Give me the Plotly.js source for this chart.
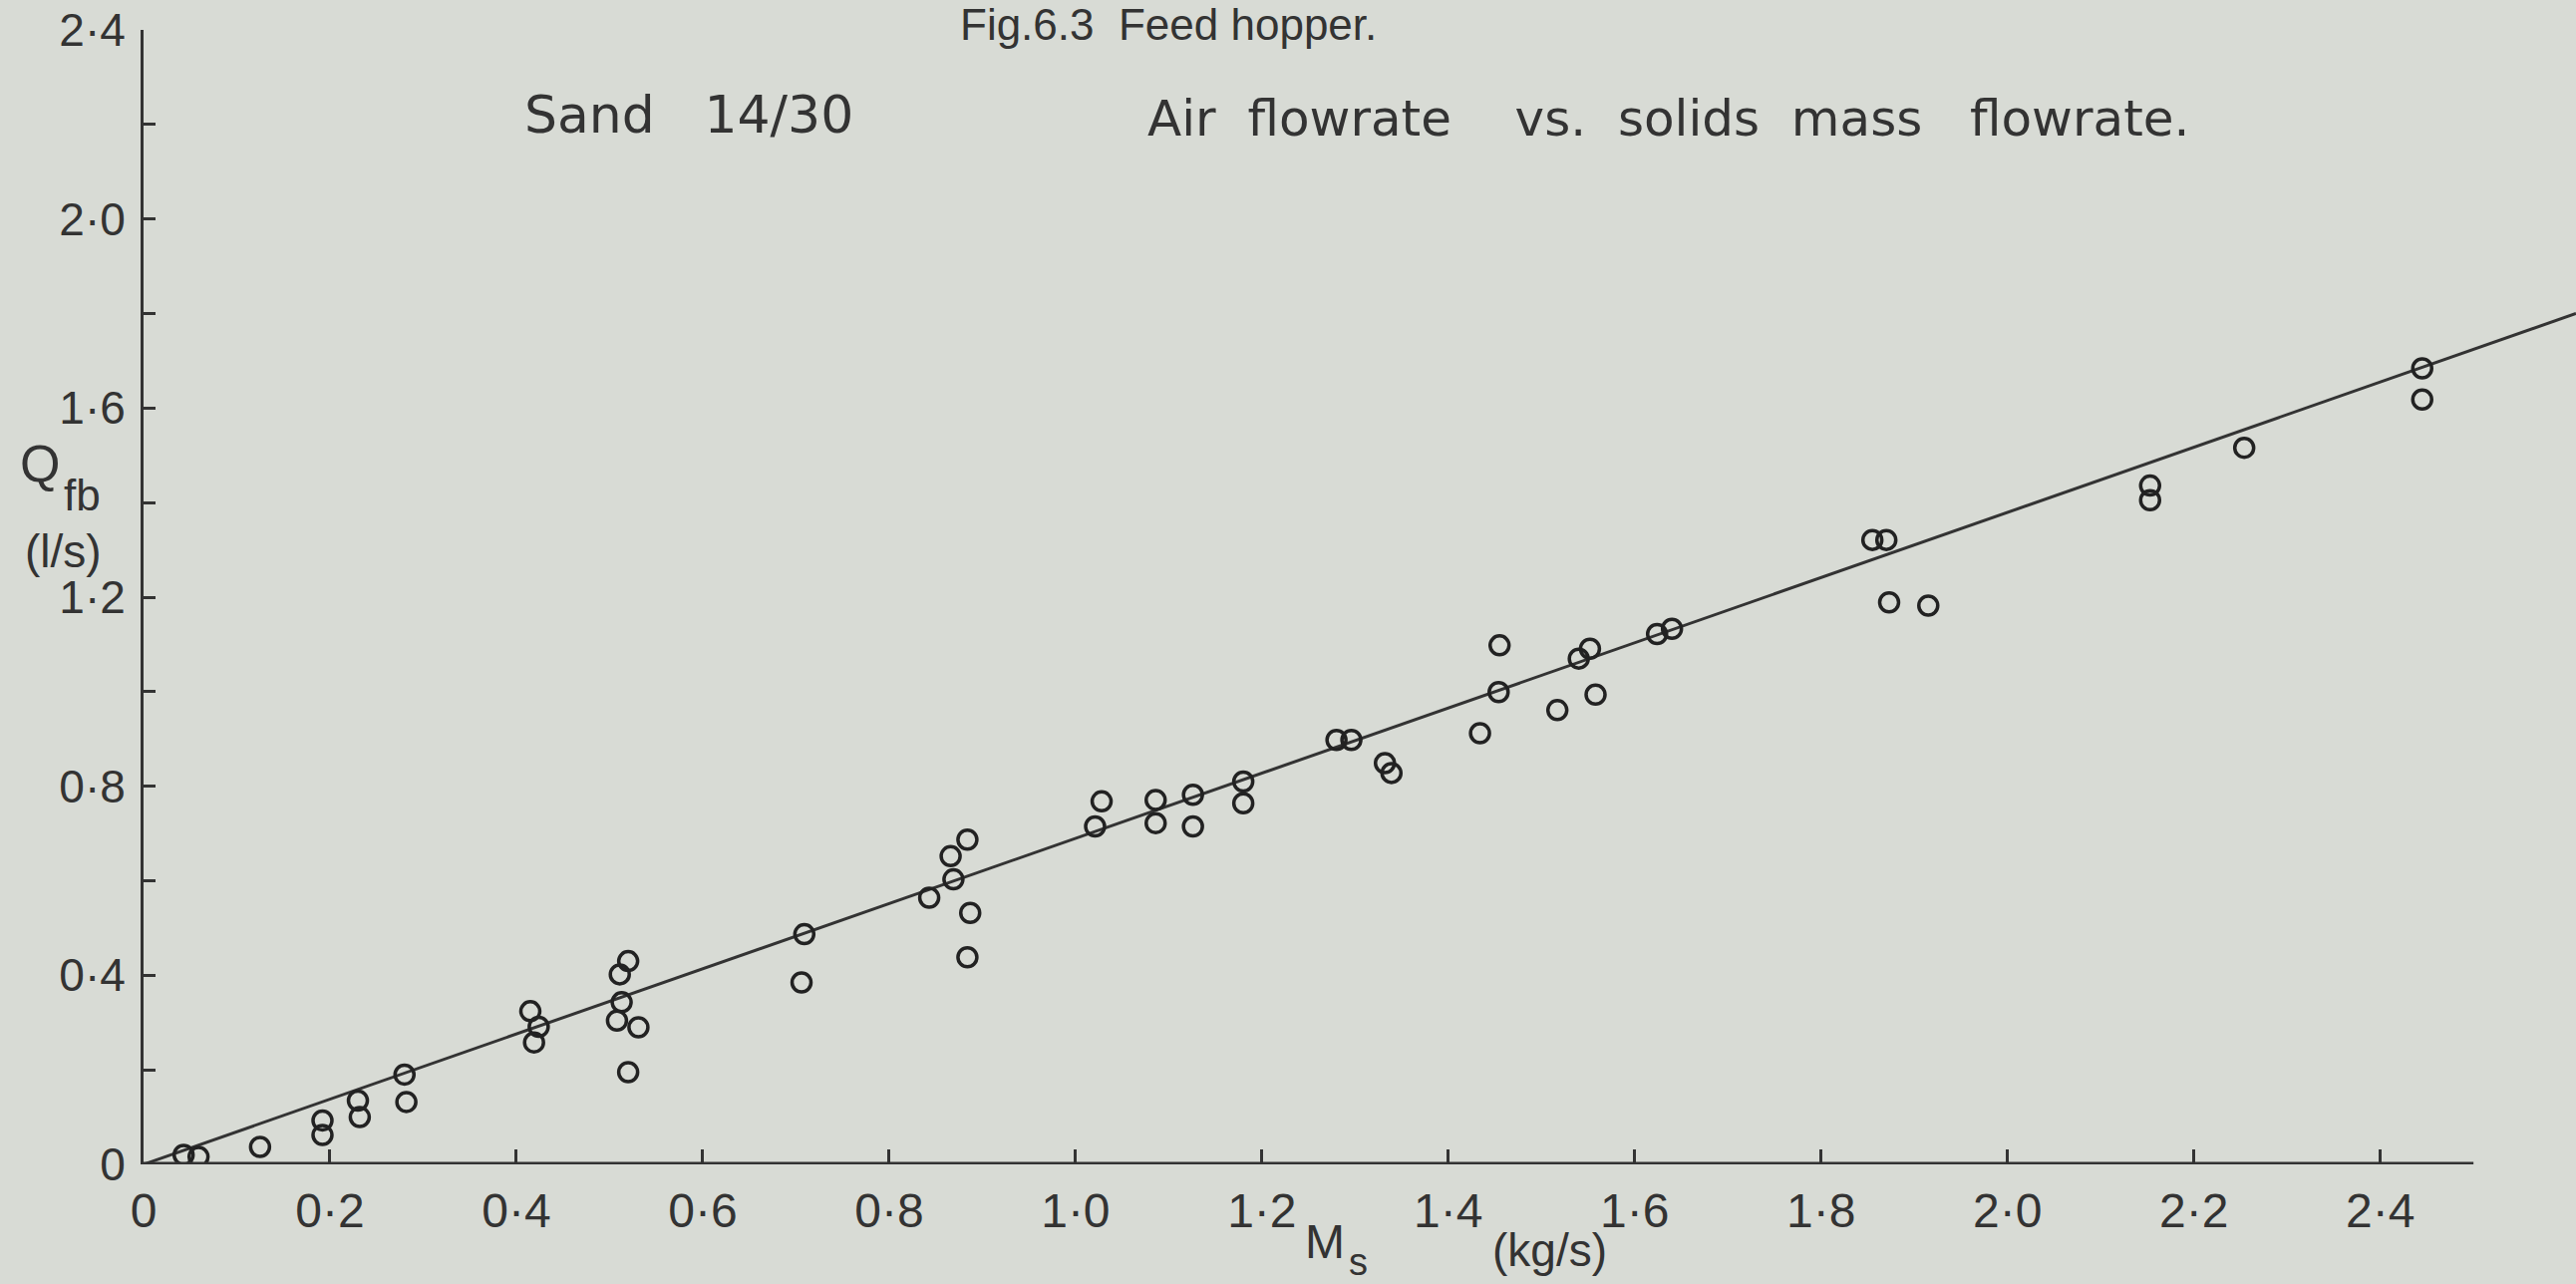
<!DOCTYPE html>
<html>
<head>
<meta charset="utf-8">
<script src="https://cdn.plot.ly/plotly-3.0.1.min.js"></script>
<style>
  html, body { margin: 0; padding: 0; background: #d8dbd5; }
  #chart { width: 2584px; height: 1288px; }
</style>
</head>
<body>
<div id="chart"></div>
<script>
// Solids mass flowrate Ms (kg/s)
const massFlow = [0.043, 0.059, 0.125, 0.192, 0.192, 0.230, 0.232, 0.280, 0.282,
  0.415, 0.424, 0.419, 0.520, 0.511, 0.513, 0.508, 0.531, 0.520, 0.709, 0.706,
  0.843, 0.866, 0.869, 0.884, 0.887, 0.884, 1.021, 1.028, 1.086, 1.086, 1.126, 1.126,
  1.180, 1.180, 1.280, 1.296, 1.332, 1.339, 1.434, 1.454, 1.455, 1.517, 1.540, 1.552,
  1.558, 1.624, 1.640, 1.855, 1.870, 1.873, 1.915, 2.153, 2.153, 2.254, 2.445, 2.445];
// Air flowrate Qfb (l/s)
const airFlow = [0.020, 0.016, 0.037, 0.093, 0.062, 0.135, 0.100, 0.190, 0.132,
  0.324, 0.291, 0.258, 0.430, 0.402, 0.343, 0.304, 0.290, 0.195, 0.487, 0.385,
  0.564, 0.652, 0.603, 0.687, 0.532, 0.438, 0.715, 0.768, 0.771, 0.722, 0.782, 0.715,
  0.810, 0.764, 0.898, 0.898, 0.849, 0.828, 0.912, 0.999, 1.098, 0.961, 1.070, 1.091,
  0.994, 1.122, 1.133, 1.321, 1.321, 1.189, 1.182, 1.436, 1.405, 1.516, 1.684, 1.618];
// Fitted straight line (end points)
const fitX = [0, 2.61];
const fitY = [0, 1.80];
// Tick labels
const xTickVals = [0, 0.2, 0.4, 0.6, 0.8, 1.0, 1.2, 1.4, 1.6, 1.8, 2.0, 2.2, 2.4];
const xTickText = ["0", "0·2", "0·4", "0·6", "0·8", "1·0", "1·2", "1·4", "1·6", "1·8", "2·0", "2·2", "2·4"];
const yTickVals = [0, 0.4, 0.8, 1.2, 1.6, 2.0, 2.4];
const yTickText = ["0", "0·4", "0·8", "1·2", "1·6", "2·0", "2·4"];

const ink = "#333333";
const bg = "#d8dbd5";
const fontFam = "'Liberation Sans', Arial, sans-serif";
const wideFam = "'DejaVu Sans', 'Liberation Sans', sans-serif";

const traces = [
  {
    x: fitX, y: fitY, type: "scatter", mode: "lines",
    line: { color: ink, width: 3 }, hoverinfo: "skip", showlegend: false
  },
  {
    x: massFlow, y: airFlow, type: "scatter", mode: "markers",
    marker: { symbol: "circle-open", size: 19, color: "#222222", line: { width: 3.5, color: "#222222" } },
    showlegend: false
  }
];

function note(text, x, y, size, fam) {
  return { text: text, xref: "paper", yref: "paper", x: x, y: y,
    xanchor: "left", yanchor: "middle", showarrow: false,
    font: { size: size, color: ink, family: fam || fontFam } };
}

const layout = {
  width: 2584, height: 1288,
  paper_bgcolor: bg, plot_bgcolor: bg,
  margin: { l: 144, r: 0, t: 30, b: 120 },
  font: { family: fontFam, color: ink, size: 48 },
  showlegend: false,
  xaxis: {
    range: [0, 2.61], showgrid: false, zeroline: false, showline: false,
    tickmode: "array", tickvals: xTickVals, ticktext: xTickText,
    ticks: "inside", ticklen: 15, tickwidth: 3, tickcolor: ink,
    tickfont: { size: 48, color: ink, family: fontFam },
    ticklabelstandoff: 14
  },
  yaxis: {
    range: [0, 2.4], showgrid: false, zeroline: false,
    showline: true, linecolor: ink, linewidth: 3,
    tickmode: "array", tickvals: yTickVals, ticktext: yTickText,
    ticks: "inside", ticklen: 12, tickwidth: 3, tickcolor: ink,
    minor: { dtick: 0.2, ticks: "inside", ticklen: 12, tickwidth: 3, tickcolor: ink },
    tickfont: { size: 46, color: ink, family: fontFam },
    ticklabelstandoff: 6
  },
  shapes: [
    { type: "line", xref: "x", yref: "y", x0: 0, y0: 0, x1: 2.5, y1: 0,
      line: { color: ink, width: 5 } }
  ],
  annotations: [
    note("Fig.6.3  Feed hopper.", 0.335, 1.0045, 44),
    note("Sand   14/30", 0.1559, 0.9253, 52, wideFam),
    note("Air  flowrate    vs.  solids  mass   flowrate.", 0.412, 0.9218, 50, wideFam),
    note("Q", -0.0518, 0.6178, 52),
    note("fb", -0.0338, 0.5905, 44),
    note("(l/s)", -0.0494, 0.5404, 46),
    note("M", 0.4767, -0.0680, 48),
    note("s", 0.4948, -0.0860, 38),
    note("(kg/s)", 0.5538, -0.0755, 46)
  ]
};

Plotly.newPlot("chart", traces, layout, { staticPlot: true, displayModeBar: false });
</script>
</body>
</html>
